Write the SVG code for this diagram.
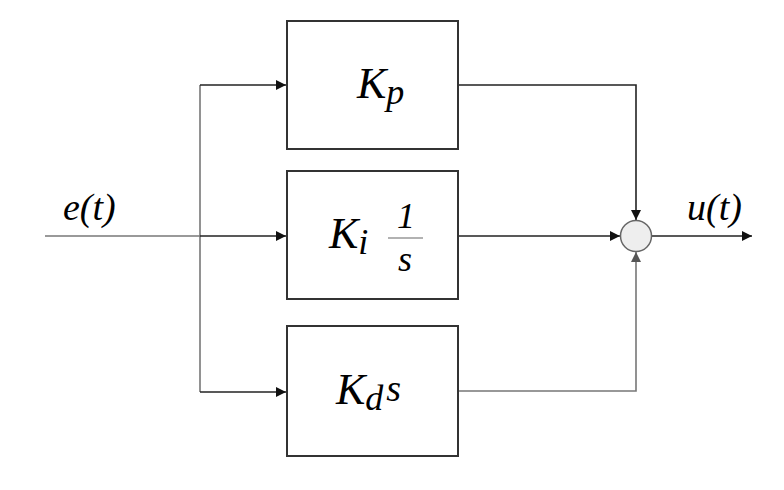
<svg xmlns="http://www.w3.org/2000/svg" width="784" height="490" viewBox="0 0 784 490">
<style>
.box{fill:#fff;stroke:#333;stroke-width:2}
.w{fill:none;stroke:#222;stroke-width:1.6}
.g{fill:none;stroke:#777;stroke-width:1.6}
text{font-family:'Liberation Serif','Times New Roman',serif;font-style:italic;fill:#000}
</style>
<defs>
<marker id="a" viewBox="0 0 10 10" refX="10" refY="5" markerWidth="10" markerHeight="10" markerUnits="userSpaceOnUse" orient="auto"><path d="M0,0 L10,5 L0,10 z" fill="#111"/></marker>
<marker id="ag" viewBox="0 0 10 10" refX="10" refY="5" markerWidth="10" markerHeight="10" markerUnits="userSpaceOnUse" orient="auto"><path d="M0,0 L10,5 L0,10 z" fill="#555"/></marker>
</defs>
<g id="connectors">
<path class="g" d="M45,236 H200"/>
<path class="g" d="M200,85 V392"/>
<path class="w" d="M200,85 H286" marker-end="url(#a)"/>
<path class="w" d="M200,236 H286" marker-end="url(#a)"/>
<path class="w" d="M200,392 H286" marker-end="url(#a)"/>
<path class="w" d="M458,85 H636 V220" marker-end="url(#a)"/>
<path class="w" d="M458,236 H620" marker-end="url(#a)"/>
<path class="g" d="M458,391 H636 V252" marker-end="url(#ag)"/>
<path class="w" d="M652,236 H752" marker-end="url(#a)"/>
</g>
<g id="kp"><rect class="box" x="287" y="21" width="171" height="128"/>
<text x="357" y="98" font-size="44">K<tspan font-size="36" dy="6">p</tspan></text></g>
<g id="ki"><rect class="box" x="287" y="171" width="171" height="128"/>
<text x="329" y="248" font-size="44">K<tspan font-size="36" dy="6">i</tspan></text>
<line x1="388" y1="238" x2="423" y2="238" stroke="#666" stroke-width="1.2"/>
<text x="406" y="228" font-size="36" text-anchor="middle">1</text>
<text x="405" y="271" font-size="36" text-anchor="middle">s</text></g>
<g id="kd"><rect class="box" x="287" y="326" width="171" height="130"/>
<text x="336" y="404" font-size="44">K<tspan font-size="36" dy="6">d</tspan><tspan font-size="38" dx="3" dy="-9">s</tspan></text></g>
<g id="sum"><circle cx="636" cy="236" r="15.5" fill="#eee" stroke="#666" stroke-width="1.5"/></g>
<g id="labels">
<text x="63" y="220" font-size="38">e(t)</text>
<text x="687" y="220" font-size="38">u(t)</text>
</g>
</svg>
